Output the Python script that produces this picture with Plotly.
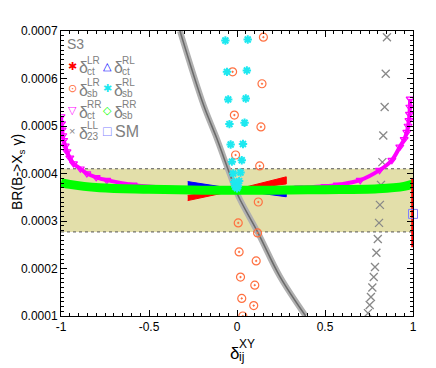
import plotly.graph_objects as go

# axes
x_range = [-1, 1]
y_range = [0.0001, 0.0007]
x_tickvals = [-1, -0.5, 0, 0.5, 1]
x_ticktext = ['-1', '-0.5', '0', '0.5', '1']
y_tickvals = [0.0001, 0.0002, 0.0003, 0.0004, 0.0005, 0.0006, 0.0007]
y_ticktext = ['0.0001', '0.0002', '0.0003', '0.0004', '0.0005', '0.0006', '0.0007']

# experimental band
band_lo = 0.000277
band_hi = 0.00041

# delta_ct^LR (red)
ct_lr_x = [-0.28, 0.0, 0.28, 0.28, 0.0, -0.28]
ct_lr_y = [0.000354, 0.000367, 0.000393, 0.000378, 0.000365, 0.000343]
ct_lr_edge_x = [1.0, 1.0]
ct_lr_edge_y = [0.000245, 0.00039]

# delta_ct^RL (blue)
ct_rl_x = [-0.28, 0.0, 0.28, 0.28, 0.0, -0.28]
ct_rl_y = [0.000383, 0.000367, 0.000358, 0.000351, 0.000365, 0.000371]

# delta_sb^LR (orange)
sb_lr_x = [0.15, -0.025, 0.142, -0.015, 0.136, -0.008, 0.129, 0.121, 0.007, 0.117,
           0.012, 0.109, 0.02, 0.101, 0.027, 0.095, 0.033]
sb_lr_y = [0.000687, 0.000614, 0.000589, 0.000523, 0.000498, 0.000439, 0.000416,
           0.00034, 0.000296, 0.000275, 0.000235, 0.000216, 0.000182, 0.000165,
           0.000137, 0.000122, 0.0001]

# delta_sb^RL (cyan)
sb_rl_x = [-0.066, -0.057, -0.05, -0.043, -0.036, -0.029, -0.022, -0.016, -0.01,
           0.061, 0.056, 0.05, 0.043, 0.034, 0.027, 0.02, 0.012, 0.005, 0.0]
sb_rl_y = [0.00068, 0.000614, 0.000556, 0.000504, 0.000461, 0.000425, 0.0004,
           0.000382, 0.000372, 0.000682, 0.000617, 0.000558, 0.000507, 0.000462,
           0.000428, 0.000402, 0.000384, 0.000373, 0.000369]

# delta_ct^RR (magenta)
ct_rr_x = [-1.0, -0.997, -0.994, -0.99, -0.985, -0.976, -0.966, -0.95, -0.929, -0.89,
           -0.853, -0.8, -0.74, -0.59, -0.44, -0.2, 0.0, 0.2, 0.35, 0.5, 0.57, 0.7,
           0.81, 0.88, 0.925, 0.95, 0.965, 0.972, 0.977, 0.98, 0.982, 0.984]
ct_rr_y = [0.00052, 0.000505, 0.000492, 0.00048, 0.00047, 0.000458, 0.000446,
           0.000433, 0.000421, 0.00041, 0.0004, 0.000392, 0.000386, 0.000376,
           0.000371, 0.000368, 0.000367, 0.000368, 0.00037, 0.000373, 0.000376,
           0.000386, 0.000407, 0.000428, 0.000456, 0.000472, 0.000487, 0.0005,
           0.000512, 0.000525, 0.00054, 0.000557]

# delta_sb^RR (green)
sb_rr_x = [-1.0, -0.95, -0.78, -0.5, -0.2, 0.2, 0.5, 0.8, 0.95, 1.0]
sb_rr_y = [0.000381, 0.000377, 0.00037, 0.000367, 0.000365, 0.000365, 0.000366,
           0.000368, 0.000373, 0.000378]

# delta_23^LL (gray): dense branch and sparse branch
ll_dense_x = [-0.324, -0.19, -0.115, -0.04, 0.008, 0.121, 0.244, 0.39]
ll_dense_y = [0.0007, 0.000544, 0.000474, 0.000398, 0.000352, 0.000274, 0.000183, 0.0001]
ll_sparse_x = [0.852, 0.845, 0.839, 0.831, 0.826, 0.818, 0.812, 0.807, 0.8, 0.792,
               0.784, 0.777, 0.769, 0.761, 0.754, 0.744]
ll_sparse_y = [0.000687, 0.00061, 0.00054, 0.00048, 0.000424, 0.000376, 0.000334,
               0.000296, 0.000262, 0.000233, 0.000203, 0.000182, 0.00016, 0.00014,
               0.000123, 0.000106]

# SM
sm_x = [1.0]
sm_y = [0.000315]

RED = '#ff0000'
BLUE = '#0000ff'
ORANGE = '#ff7040'
CYAN = '#1ee8f0'
MAGENTA = '#ff00ff'
GREEN = '#00ff00'
GRAY = '#888888'
SMBLUE = '#8080ff'
LABEL = '#808080'
FONT = 'Liberation Sans, Arial, sans-serif'

# the page body adds an 8px offset, so the figure is placed 8px up/left
OFF = 8
W, H = 436, 368
L, T = 61 - OFF, 31 - OFF
PW, PH = 352, 285
R = W - L - PW
B = H - T - PH


def px(xs):
    # screen x (reference pixels) -> paper x
    return (xs - OFF - L) / PW


def py(ys):
    # screen y (reference pixels) -> paper y
    return (T + PH - (ys - OFF)) / PH


fig = go.Figure()

fig.add_trace(go.Scatter(x=ll_dense_x, y=ll_dense_y, mode='lines',
                         line=dict(color='#b0b0b0', width=6, shape='spline')))
fig.add_trace(go.Scatter(x=ll_dense_x, y=ll_dense_y, mode='lines',
                         line=dict(color='#6a6a6a', width=1.5, shape='spline')))
fig.add_trace(go.Scatter(x=sb_lr_x, y=sb_lr_y, mode='markers',
                         marker=dict(symbol='circle-open-dot', size=8, color=ORANGE,
                                     line=dict(width=1.2, color=ORANGE))))
fig.add_trace(go.Scatter(x=ll_sparse_x, y=ll_sparse_y, mode='markers',
                         marker=dict(symbol='x-thin-open', size=8, color=GRAY,
                                     line=dict(width=1.3, color=GRAY))))
fig.add_trace(go.Scatter(x=ct_rr_x, y=ct_rr_y, mode='lines+markers',
                         line=dict(color=MAGENTA, width=4, shape='spline'),
                         marker=dict(symbol='triangle-down-open', size=7, color=MAGENTA,
                                     line=dict(width=1.2, color=MAGENTA))))
fig.add_trace(go.Scatter(x=ct_lr_x, y=ct_lr_y, mode='lines', fill='toself',
                         fillcolor=RED, line=dict(color=RED, width=1)))
fig.add_trace(go.Scatter(x=ct_rl_x, y=ct_rl_y, mode='lines', fill='toself',
                         fillcolor=BLUE, line=dict(color=BLUE, width=1)))
fig.add_trace(go.Scatter(x=sb_rr_x, y=sb_rr_y, mode='lines',
                         line=dict(color=GREEN, width=9, shape='spline')))
fig.add_trace(go.Scatter(x=sb_rl_x, y=sb_rl_y, mode='markers',
                         marker=dict(symbol='asterisk-open', size=7, color=CYAN,
                                     line=dict(width=2, color=CYAN))))
fig.add_trace(go.Scatter(x=ct_lr_edge_x, y=ct_lr_edge_y, mode='lines', cliponaxis=False,
                         line=dict(color=RED, width=3.5)))
fig.add_trace(go.Scatter(x=sm_x, y=sm_y, mode='markers', cliponaxis=False,
                         marker=dict(symbol='square-open', size=9, color=SMBLUE,
                                     line=dict(width=1, color=SMBLUE))))

# band
fig.add_shape(type='rect', x0=x_range[0], x1=x_range[1], y0=band_lo, y1=band_hi,
              fillcolor='#e3dfaa', line_width=0, layer='below')
for yb in (band_lo, band_hi):
    fig.add_shape(type='line', x0=x_range[0], x1=x_range[1], y0=yb, y1=yb,
                  line=dict(color='#555555', width=1, dash='dot'), layer='below')

# legend, built from annotations
ann = []
ann.append(dict(x=px(65), y=py(44), text='S3', xanchor='left', yanchor='middle',
                font=dict(size=14, color=LABEL)))
legend_rows = [66, 88, 110, 131]
legend_cols = [72, 107]
entries = [
    (0, 0, '✱', RED, 'LR', 'ct'),
    (0, 1, '⊙', ORANGE, 'LR', 'sb'),
    (0, 2, '▽', MAGENTA, 'RR', 'ct'),
    (0, 3, '×', GRAY, 'LL', '23'),
    (1, 0, '△', BLUE, 'RL', 'ct'),
    (1, 1, '✱', CYAN, 'RL', 'sb'),
    (1, 2, '◇', GREEN, 'RR', 'sb'),
]
for c, r, sym, col, sup, sub in entries:
    xc = legend_cols[c]
    yc = legend_rows[r]
    ann.append(dict(x=px(xc), y=py(yc), text=sym, xanchor='center', yanchor='middle',
                    font=dict(size=11, color=col)))
    ann.append(dict(x=px(xc + 5), y=py(yc + 2), text='δ', xanchor='left', yanchor='middle',
                    font=dict(size=16, color=LABEL)))
    ann.append(dict(x=px(xc + 13), y=py(yc - 6), text=sup, xanchor='left', yanchor='middle',
                    font=dict(size=10, color=LABEL)))
    ann.append(dict(x=px(xc + 13), y=py(yc + 5), text=sub, xanchor='left', yanchor='middle',
                    font=dict(size=10, color=LABEL)))
ann.append(dict(x=px(legend_cols[1]), y=py(legend_rows[3]), text='□', xanchor='center',
                yanchor='middle', font=dict(size=14, color=SMBLUE)))
ann.append(dict(x=px(legend_cols[1] + 6), y=py(legend_rows[3]), text='SM', xanchor='left',
                yanchor='middle', font=dict(size=16, color=LABEL)))

# axis titles
ann.append(dict(x=px(234), y=py(353), text='δ', xanchor='center', yanchor='middle',
                font=dict(size=17, color='black')))
ann.append(dict(x=px(237), y=py(344), text='XY', xanchor='left', yanchor='middle',
                font=dict(size=12, color='black')))
ann.append(dict(x=px(237), y=py(357), text='ij', xanchor='left', yanchor='middle',
                font=dict(size=12, color='black')))
ann.append(dict(x=px(18), y=py(172), text='BR(B->X<sub>s</sub> γ)', textangle=-90,
                xanchor='center', yanchor='middle', font=dict(size=14, color='black')))
for a in ann:
    a.update(xref='paper', yref='paper', showarrow=False)

axis_common = dict(showgrid=False, zeroline=False, showline=True, linecolor='black',
                   linewidth=1, mirror='allticks', ticks='inside', ticklen=6,
                   tickcolor='black', tickfont=dict(size=12, color='black'))

fig.update_xaxes(range=x_range, tickvals=x_tickvals, ticktext=x_ticktext,
                 minor=dict(ticks='inside', dtick=0.05, ticklen=3, tickcolor='black'),
                 **axis_common)
fig.update_yaxes(range=y_range, tickvals=y_tickvals, ticktext=y_ticktext,
                 minor=dict(ticks='inside', dtick=0.00001, ticklen=3, tickcolor='black'),
                 **axis_common)

fig.update_layout(
    width=W, height=H,
    margin=dict(l=L, r=R, t=T, b=B),
    paper_bgcolor='white', plot_bgcolor='white',
    showlegend=False,
    font=dict(family=FONT),
    annotations=ann,
)

fig.write_html('out.html')
